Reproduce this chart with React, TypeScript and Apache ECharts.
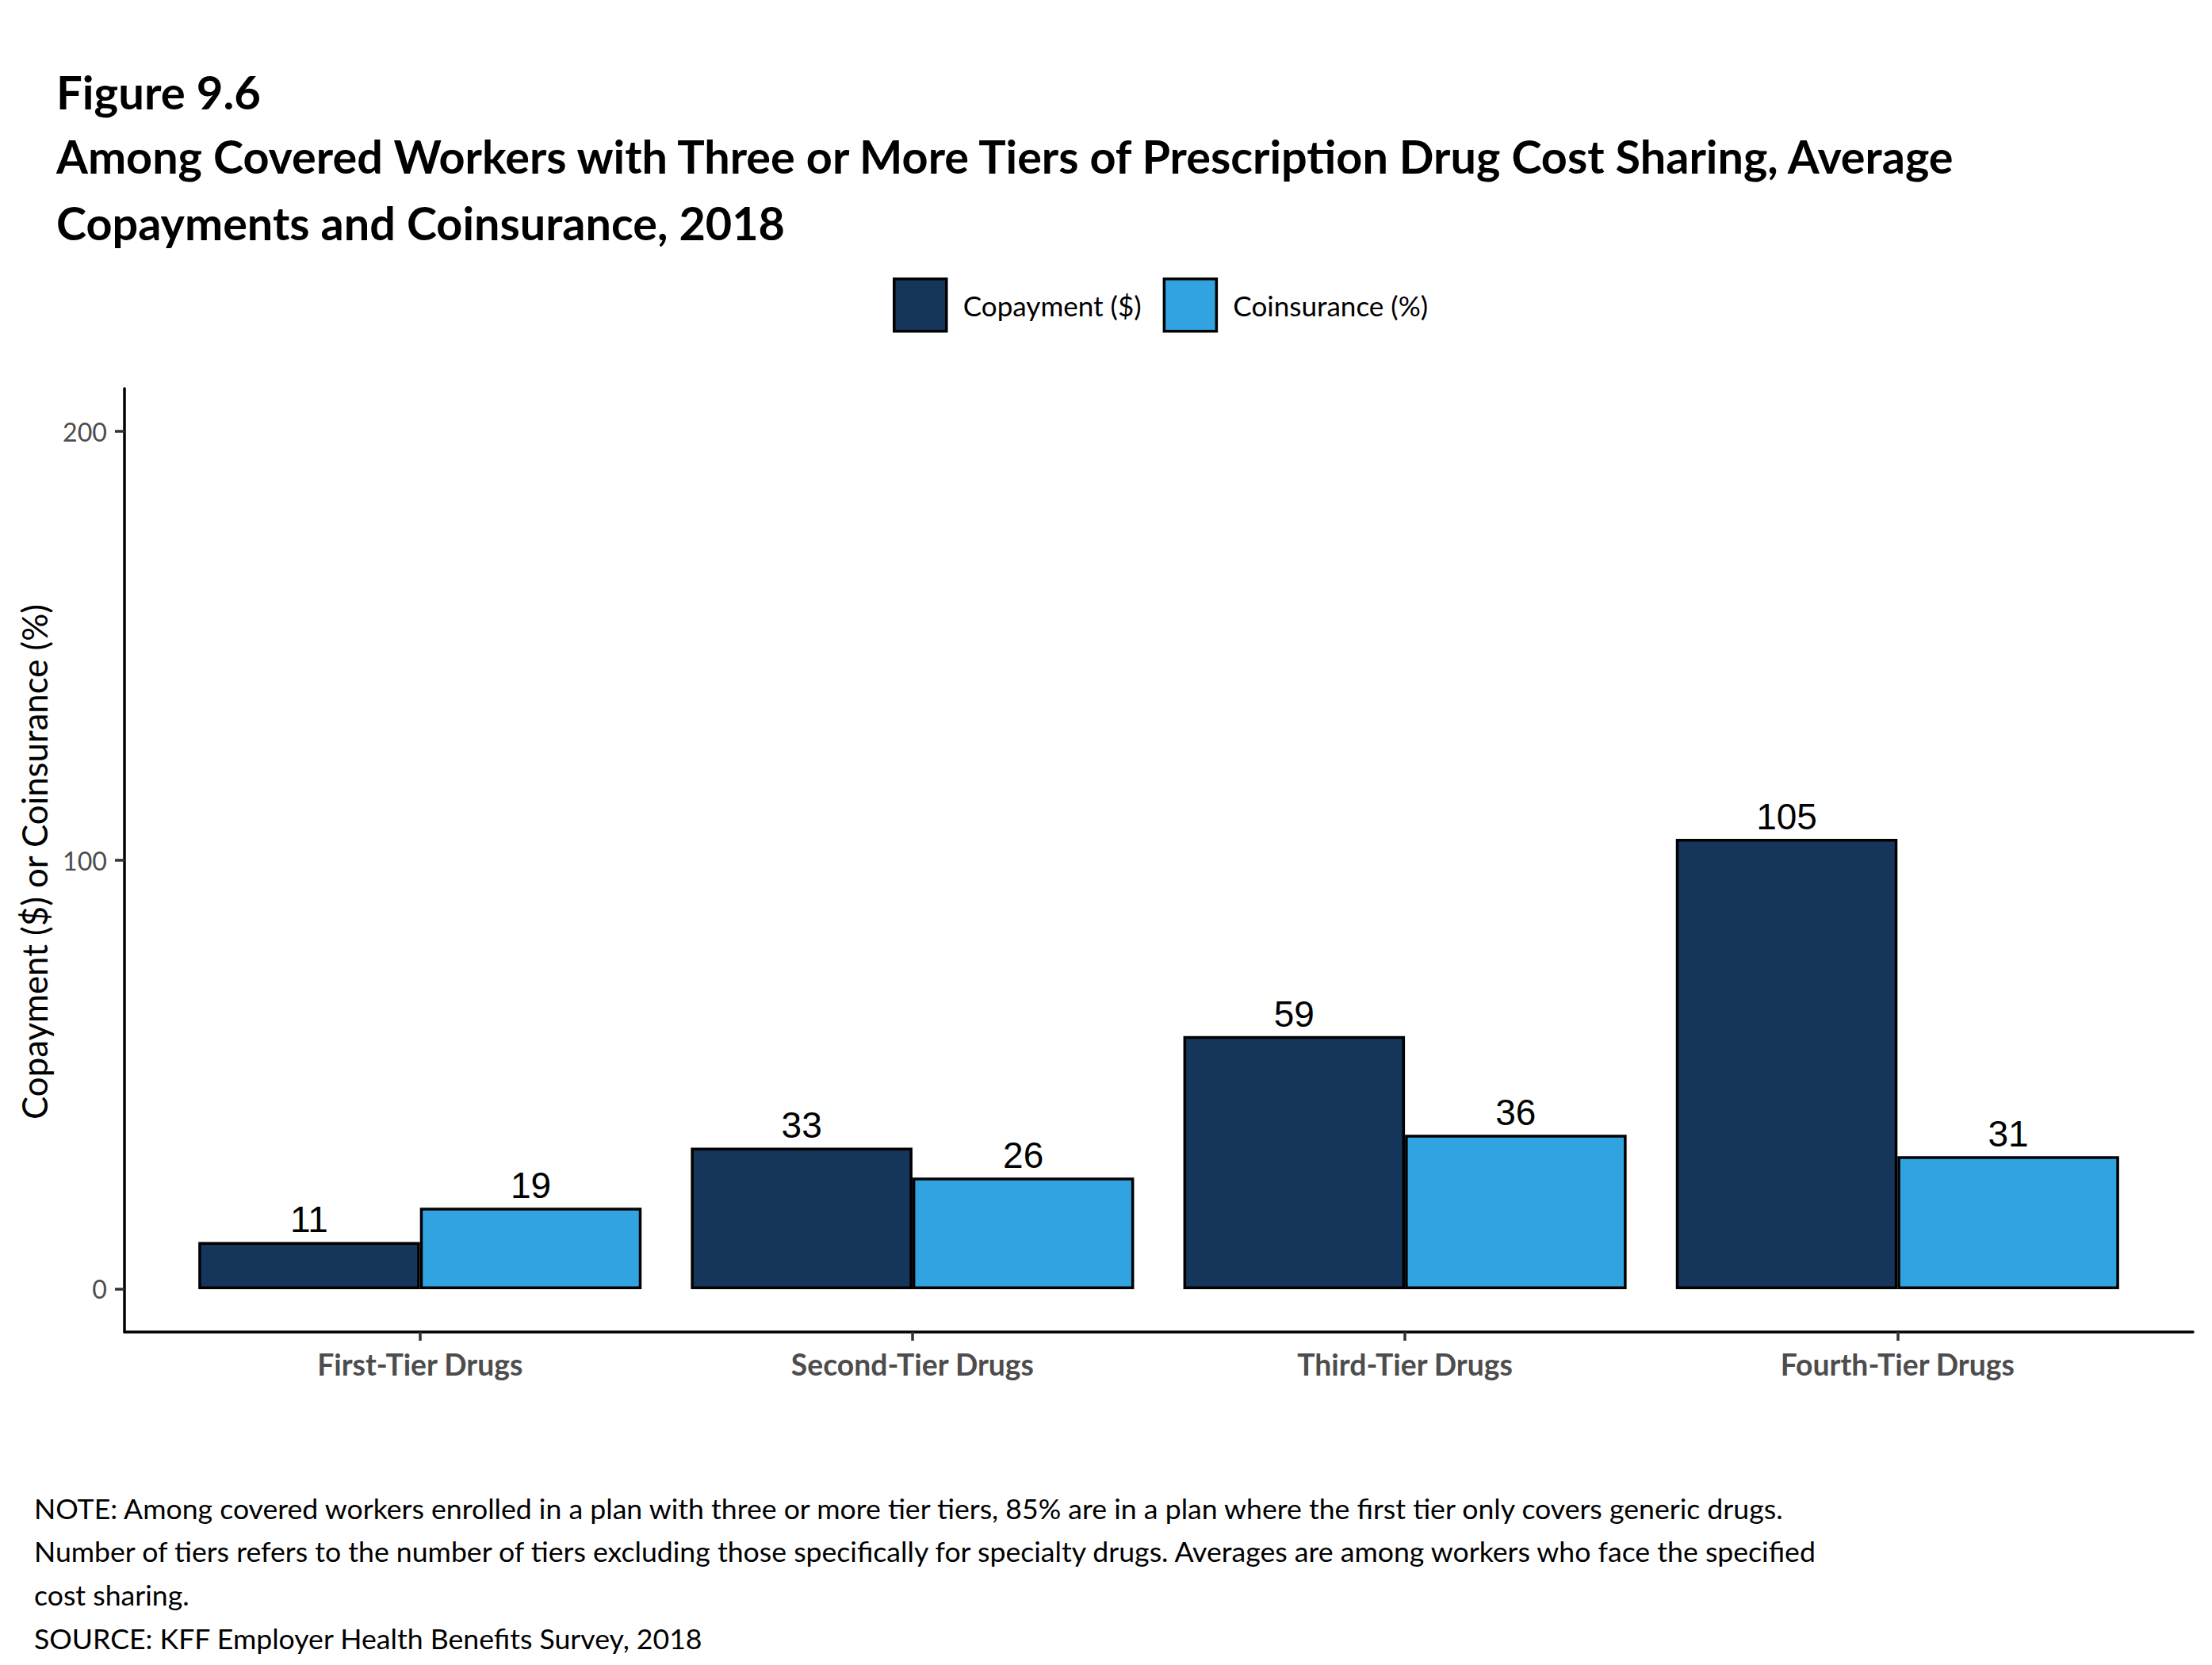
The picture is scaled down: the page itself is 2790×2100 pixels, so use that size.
import React, { useEffect, useRef } from "react";
import * as echarts from "echarts";

const categories = ["First-Tier Drugs", "Second-Tier Drugs", "Third-Tier Drugs", "Fourth-Tier Drugs"];
const seriesNames = ["Copayment ($)", "Coinsurance (%)"];
const copayment = [11, 33, 59, 105];
const coinsurance = [19, 26, 36, 31];
const yTicks = [0, 100, 200];
const yMin = -10;
const yMax = 210;
const figureLabel = "Figure 9.6";
const titleLines = [
  "Among Covered Workers with Three or More Tiers of Prescription Drug Cost Sharing, Average",
  "Copayments and Coinsurance, 2018",
];
const yAxisTitle = "Copayment ($) or Coinsurance (%)";
const noteLines = [
  "NOTE: Among covered workers enrolled in a plan with three or more tier tiers, 85% are in a plan where the first tier only covers generic drugs.",
  "Number of tiers refers to the number of tiers excluding those specifically for specialty drugs. Averages are among workers who face the specified",
  "cost sharing.",
  "SOURCE: KFF Employer Health Benefits Survey, 2018",
];

const W = 2790;
const H = 2100;
const FONT = "Lato";
const DARK = "#15355a";
const LIGHT = "#31a3e0";

function fitSize(text: string, weight: string, target: number, family: string = FONT): number {
  const ctx = document.createElement("canvas").getContext("2d");
  if (!ctx) return 30;
  ctx.font = `${weight} 100px ${family}`;
  const w = ctx.measureText(text).width;
  return (100 * target) / w;
}

export default function App() {
  const ref = useRef<HTMLDivElement>(null);
  useEffect(() => {
    document.body.style.margin = "0";
    if (!ref.current) return;
    const chart = echarts.init(ref.current, undefined, { renderer: "svg", width: W, height: H });

    const figSize = fitSize(figureLabel, "bold", 258);
    const titleSize = fitSize(titleLines[0], "bold", 2402);
    const legendSize = fitSize(seriesNames[0], "normal", 225);
    const yTitleSize = fitSize(yAxisTitle, "normal", 651);
    const tickSize = fitSize("200", "normal", 56);
    const catSize = fitSize(categories[0], "bold", 260);
    const noteSize = fitSize(noteLines[0], "normal", 2213);

    const plotLeft = 157;
    const plotRight = 2766;
    const plotTop = 490;
    const plotBottom = 1680;
    const unit = (plotRight - plotLeft) / (categories.length - 1 + 1.2);
    const barLeft = plotLeft + unit * 0.1;
    const barRight = plotRight - unit * 0.1;

    const graphics: any[] = [
      {
        type: "text",
        left: 71,
        top: 86,
        style: { text: figureLabel, font: `bold ${figSize}px ${FONT}`, fill: "#000" },
      },
      ...titleLines.map((t, i) => ({
        type: "text",
        left: 71,
        top: 167 + i * 84,
        style: { text: t, font: `bold ${titleSize}px ${FONT}`, fill: "#000" },
      })),
      {
        type: "text",
        x: 43,
        y: 1087,
        rotation: Math.PI / 2,
        style: {
          text: yAxisTitle,
          font: `${yTitleSize}px ${FONT}`,
          fill: "#000",
          align: "center",
          verticalAlign: "middle",
        },
      },
      ...noteLines.map((t, i) => ({
        type: "text",
        x: 43,
        y: 1902 + i * 54.7,
        style: { text: t, font: `${noteSize}px ${FONT}`, fill: "#000", verticalAlign: "middle" },
      })),
    ];

    chart.setOption({
      animation: false,
      backgroundColor: "#ffffff",
      graphic: graphics,
      legend: {
        data: seriesNames,
        left: 1126,
        top: 350,
        padding: 0,
        itemWidth: 66,
        itemHeight: 66,
        itemGap: 27,
        icon: "rect",
        itemStyle: { borderColor: "#000", borderWidth: 3.5 },
        textStyle: {
          fontFamily: FONT,
          fontSize: legendSize,
          color: "#000",
          padding: [0, 0, 0, 16],
        },
      },
      grid: [
        { left: barLeft, right: W - barRight, top: plotTop, bottom: H - plotBottom },
        { left: plotLeft, right: W - plotRight, top: plotTop, bottom: H - plotBottom },
      ],
      xAxis: [
        {
          type: "category",
          gridIndex: 0,
          data: categories,
          axisLine: { show: false, onZero: false },
          axisTick: { show: true, alignWithLabel: true, length: 11, lineStyle: { color: "#333", width: 3.5 } },
          axisLabel: {
            margin: 22,
            fontFamily: FONT,
            fontWeight: "bold",
            fontSize: catSize,
            color: "#4d4d4d",
          },
          splitLine: { show: false },
        },
        {
          type: "value",
          gridIndex: 1,
          min: 0,
          max: 1,
          axisLine: { show: true, onZero: false, lineStyle: { color: "#000", width: 3.5 } },
          axisTick: { show: false },
          axisLabel: { show: false },
          splitLine: { show: false },
        },
      ],
      yAxis: [
        {
          type: "value",
          gridIndex: 0,
          min: yMin,
          max: yMax,
          show: false,
          splitLine: { show: false },
        },
        {
          type: "value",
          gridIndex: 1,
          min: yMin,
          max: yMax,
          axisLine: { show: true, onZero: false, lineStyle: { color: "#000", width: 3.5 } },
          axisTick: {
            show: true,
            customValues: yTicks,
            length: 12,
            lineStyle: { color: "#333", width: 3.5 },
          },
          axisLabel: {
            customValues: yTicks,
            margin: 22,
            fontFamily: FONT,
            fontSize: tickSize,
            color: "#4d4d4d",
          },
          splitLine: { show: false },
        },
      ],
      series: [
        {
          name: seriesNames[0],
          type: "bar",
          xAxisIndex: 0,
          yAxisIndex: 0,
          data: copayment,
          barGap: "0%",
          barCategoryGap: "10%",
          itemStyle: { color: DARK, borderColor: "#000", borderWidth: 3.5 },
          label: {
            show: true,
            position: "top",
            distance: 5,
            fontFamily: "Liberation Sans",
            fontSize: 46,
            color: "#000",
          },
        },
        {
          name: seriesNames[1],
          type: "bar",
          xAxisIndex: 0,
          yAxisIndex: 0,
          data: coinsurance,
          barGap: "0%",
          barCategoryGap: "10%",
          itemStyle: { color: LIGHT, borderColor: "#000", borderWidth: 3.5 },
          label: {
            show: true,
            position: "top",
            distance: 5,
            fontFamily: "Liberation Sans",
            fontSize: 46,
            color: "#000",
          },
        },
      ],
    });
    return () => chart.dispose();
  }, []);
  return <div ref={ref} style={{ width: W, height: H, background: "#fff" }} />;
}
